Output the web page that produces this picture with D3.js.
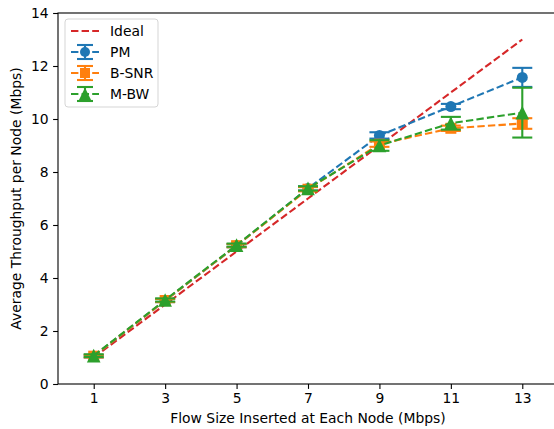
<!DOCTYPE html>
<html>
<head>
<meta charset="utf-8">
<script src="https://cdn.jsdelivr.net/npm/d3@7"></script>
<style>
  body { margin: 0; background: #fff; }
  svg { display: block; font-family: "DejaVu Sans", sans-serif; }
</style>
</head>
<body>
<svg id="chart" width="554" height="429"></svg>
<script>
// flow sizes on the x axis
const flowSizes = [1, 3, 5, 7, 9, 11, 13];
const idealValues = [1, 3, 5, 7, 9, 11, 13];
const pmValues = [1.05, 3.15, 5.22, 7.38, 9.38, 10.47, 11.57];
const pmErr = [0.05, 0.06, 0.06, 0.08, 0.12, 0.1, 0.36];
const bsnrValues = [1.05, 3.15, 5.22, 7.35, 9.05, 9.65, 9.83];
const bsnrErr = [0.05, 0.06, 0.06, 0.08, 0.1, 0.1, 0.2];
const mbwValues = [1.07, 3.17, 5.24, 7.38, 9.0, 9.84, 10.24];
const mbwErr = [0.05, 0.06, 0.06, 0.08, 0.2, 0.24, 0.94];
const xTicks = [1, 3, 5, 7, 9, 11, 13];
const yTicks = [0, 2, 4, 6, 8, 10, 12, 14];

const series = [
    { name: "PM", values: pmValues, err: pmErr, color: "#1f77b4", marker: "circle" },
    { name: "B-SNR", values: bsnrValues, err: bsnrErr, color: "#ff7f0e", marker: "square" },
    { name: "M-BW", values: mbwValues, err: mbwErr, color: "#2ca02c", marker: "triangle" }
];

const svg = d3.select("#chart");
const margin = { top: 13, left: 58 };
const width = 500;   // right edge falls just outside the picture
const height = 371;
const g = svg.append("g").attr("transform", `translate(${margin.left},${margin.top})`);

const x = d3.scaleLinear().domain([0, 14]).range([0, width]);
const y = d3.scaleLinear().domain([0, 14]).range([height, 0]);

// axes
const xAxis = g.append("g")
    .attr("transform", `translate(0,${height})`)
    .call(d3.axisBottom(x).tickValues(xTicks).tickSize(4.9).tickPadding(4.5));
const yAxis = g.append("g")
    .call(d3.axisLeft(y).tickValues(yTicks).tickSize(4.9).tickPadding(4.5));
[xAxis, yAxis].forEach(a => {
    a.select(".domain").remove();
    a.selectAll(".tick line").attr("stroke", "#000").attr("stroke-width", 1.1);
    a.selectAll(".tick text").attr("fill", "#000").style("font-size", "13.9px")
        .style("font-family", "DejaVu Sans, sans-serif");
});

// frame
g.append("rect")
    .attr("width", width).attr("height", height)
    .attr("fill", "none").attr("stroke", "#000").attr("stroke-width", 1.1);

// labels
svg.append("text")
    .attr("x", margin.left + x(7)).attr("y", 423)
    .attr("text-anchor", "middle").style("font-size", "13.9px")
    .text("Flow Size Inserted at Each Node (Mbps)");
svg.append("text")
    .attr("transform", `translate(21,${margin.top + height / 2}) rotate(-90)`)
    .attr("text-anchor", "middle").style("font-size", "13.9px")
    .text("Average Throughput per Node (Mbps)");

const line = d3.line().x(d => x(d[0])).y(d => y(d[1]));
const dash = "7.4,3.2";

function drawMarker(sel, type, color, size) {
    if (type === "circle") {
        sel.append("circle").attr("r", size / 2).attr("fill", color);
    } else if (type === "square") {
        sel.append("rect").attr("x", -size / 2).attr("y", -size / 2)
            .attr("width", size).attr("height", size).attr("fill", color);
    } else {
        const s = size * 0.62;
        sel.append("path").attr("d", `M0,${-s}L${s},${s}L${-s},${s}Z`).attr("fill", color);
    }
}

// ideal line
g.append("path")
    .datum(flowSizes.map((f, i) => [f, idealValues[i]]))
    .attr("d", line).attr("fill", "none")
    .attr("stroke", "#d62728").attr("stroke-width", 2.1).attr("stroke-dasharray", dash);

// error bar series
series.forEach(s => {
    const pts = flowSizes.map((f, i) => ({ x: f, y: s.values[i], e: s.err[i] }));
    const sg = g.append("g");
    sg.append("path")
        .datum(pts.map(p => [p.x, p.y]))
        .attr("d", line).attr("fill", "none")
        .attr("stroke", s.color).attr("stroke-width", 2.1).attr("stroke-dasharray", dash);
    const eb = sg.selectAll(".err").data(pts).enter().append("g");
    eb.append("line")
        .attr("x1", d => x(d.x)).attr("x2", d => x(d.x))
        .attr("y1", d => y(d.y - d.e)).attr("y2", d => y(d.y + d.e))
        .attr("stroke", s.color).attr("stroke-width", 2.1);
    [-1, 1].forEach(sign => {
        eb.append("line")
            .attr("x1", d => x(d.x) - 10).attr("x2", d => x(d.x) + 10)
            .attr("y1", d => y(d.y + sign * d.e)).attr("y2", d => y(d.y + sign * d.e))
            .attr("stroke", s.color).attr("stroke-width", 2.1);
    });
    pts.forEach(p => {
        const m = sg.append("g").attr("transform", `translate(${x(p.x)},${y(p.y)})`);
        drawMarker(m, s.marker, s.color, 11);
    });
});

// legend
const lg = svg.append("g").attr("transform", "translate(65,19)");
lg.append("rect")
    .attr("width", 93).attr("height", 88).attr("rx", 3)
    .attr("fill", "#fff").attr("fill-opacity", 0.8)
    .attr("stroke", "#d5d5d5").attr("stroke-width", 1);
const items = [{ name: "Ideal", color: "#d62728" }].concat(series);
items.forEach((it, i) => {
    const row = lg.append("g").attr("transform", `translate(0,${12 + i * 21})`);
    row.append("line")
        .attr("x1", 6).attr("x2", 34).attr("y1", 0).attr("y2", 0)
        .attr("stroke", it.color).attr("stroke-width", 2.1).attr("stroke-dasharray", dash);
    if (it.marker) {
        row.append("line").attr("x1", 20).attr("x2", 20).attr("y1", -7).attr("y2", 7)
            .attr("stroke", it.color).attr("stroke-width", 2.1);
        [-7, 7].forEach(yy => row.append("line")
            .attr("x1", 12).attr("x2", 28).attr("y1", yy).attr("y2", yy)
            .attr("stroke", it.color).attr("stroke-width", 2.1));
        const m = row.append("g").attr("transform", "translate(20,0)");
        drawMarker(m, it.marker, it.color, 10);
    }
    row.append("text").attr("x", 45).attr("y", 5)
        .style("font-size", "13.9px").text(it.name);
});
</script>
</body>
</html>
